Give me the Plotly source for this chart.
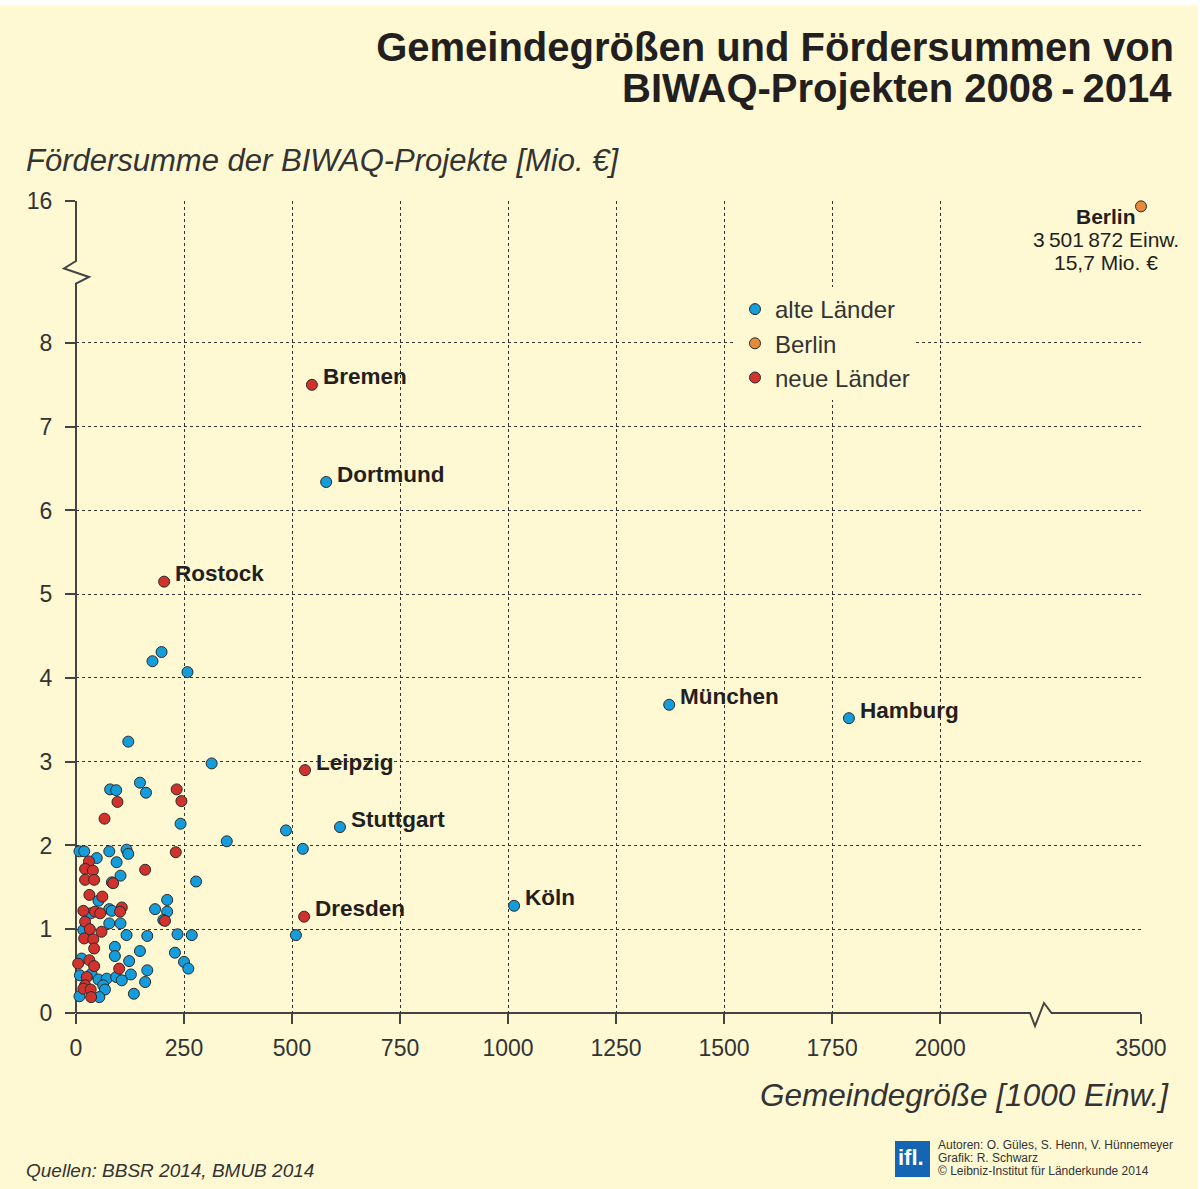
import plotly.graph_objects as go

# ---------------- data ----------------
# alte Länder (unlabelled points): population [1000 Einw.], funding [Mio. €]
alte_x = [121, 314, 148, 79, 93, 162, 242, 349, 8, 19, 48, 77, 117, 121, 94, 103, 83, 278,
          52, 211, 77, 83, 183, 211, 34, 77, 103, 202, 17, 117, 165, 235, 268, 90, 148, 229,
          90, 13, 123, 250, 260, 165, 9, 36, 52, 71, 93, 106, 127, 160, 63, 67, 134, 8, 54,
          198, 177, 258, 486, 525, 509]
alte_y = [3.24, 2.98, 2.75, 2.67, 2.66, 2.63, 2.26, 2.05, 1.93, 1.93, 1.85, 1.93, 1.95, 1.90,
          1.80, 1.64, 1.56, 1.57, 1.34, 1.35, 1.24, 1.22, 1.24, 1.21, 1.19, 1.07, 1.07, 1.11,
          0.99, 0.93, 0.92, 0.94, 0.93, 0.79, 0.74, 0.72, 0.68, 0.65, 0.62, 0.61, 0.53, 0.51,
          0.45, 0.47, 0.40, 0.41, 0.43, 0.39, 0.46, 0.37, 0.33, 0.28, 0.23, 0.20, 0.19,
          4.31, 4.20, 4.07, 2.18, 1.96, 0.93]
# labelled alte Länder
alte_named = ["Dortmund", "München", "Hamburg", "Köln", "Stuttgart"]
alte_named_x = [579, 1373, 1789, 1014, 611]
alte_named_y = [6.34, 3.68, 3.52, 1.28, 2.22]

# neue Länder (red)
neue_x = [233, 244, 96, 66, 231, 30, 21, 39, 160, 21, 42, 86, 31, 61, 17, 44, 56, 106, 102,
          206, 21, 32, 59, 19, 40, 42, 31, 5, 42, 100, 25, 21, 17, 34, 35]
neue_y = [2.67, 2.53, 2.52, 2.32, 1.92, 1.81, 1.72, 1.70, 1.71, 1.59, 1.59, 1.55, 1.41, 1.39,
          1.22, 1.21, 1.19, 1.26, 1.21, 1.10, 1.09, 1.00, 0.97, 0.89, 0.88, 0.77, 0.63, 0.59,
          0.56, 0.53, 0.43, 0.33, 0.29, 0.28, 0.19]
neue_named = ["Bremen", "Rostock", "Leipzig", "Dresden"]
neue_named_x = [546, 204, 530, 528]
neue_named_y = [7.50, 5.15, 2.90, 1.15]

# Berlin
berlin_x = [3501.872]
berlin_y = [15.7]

x_tick_values = [0, 250, 500, 750, 1000, 1250, 1500, 1750, 2000, 3500]
y_tick_values = [0, 1, 2, 3, 4, 5, 6, 7, 8, 16]

# ---------------- broken-axis transforms ----------------
X_TOP_T = 2465.0   # internal position of 3500 (axis end)
Y_TOP_T = 9.695    # internal position of 16 (axis end)


def tx(v):
    # linear up to the break, then compressed segment ending at 3500
    return v if v <= 2300 else X_TOP_T - max(0.0, 3500 - v) * 0.2


def ty(v):
    return v if v <= 8.5 else Y_TOP_T - max(0.0, 16 - v) * 0.212


# ---------------- layout geometry (pixels) ----------------
W, H = 1204, 1189
PX_L, PX_R, PX_T, PX_B = 76, 1141, 201, 1013


def pxx(px):
    return (px - PX_L) / (PX_R - PX_L)


def pxy(py):
    return (PX_B - py) / (PX_B - PX_T)


BG = "#FEF9D2"
BLUE = "#159CDA"
RED = "#D2322E"
ORANGE = "#E58B38"
EDGE = "#2B2B2B"
TXT = "#231F20"
GREY = "#333333"
FONT = "Liberation Sans, Arial, Helvetica, sans-serif"

fig = go.Figure()

mk = dict(size=11, line=dict(color=EDGE, width=1))
fig.add_trace(go.Scatter(
    x=[tx(v) for v in alte_x + alte_named_x], y=[ty(v) for v in alte_y + alte_named_y],
    mode="markers", name="alte Länder", marker=dict(color=BLUE, **mk),
    legendrank=1, cliponaxis=False))
fig.add_trace(go.Scatter(
    x=[tx(v) for v in neue_x + neue_named_x], y=[ty(v) for v in neue_y + neue_named_y],
    mode="markers", name="neue Länder", marker=dict(color=RED, **mk),
    legendrank=3, cliponaxis=False))
fig.add_trace(go.Scatter(
    x=[tx(v) for v in berlin_x], y=[ty(v) for v in berlin_y],
    mode="markers", name="Berlin", marker=dict(color=ORANGE, **mk),
    legendrank=2, cliponaxis=False))

annotations = []
for n, xv, yv in list(zip(alte_named, alte_named_x, alte_named_y)) + list(zip(neue_named, neue_named_x, neue_named_y)):
    annotations.append(dict(x=tx(xv), y=ty(yv), xref="x", yref="y", text=f"<b>{n}</b>",
                            showarrow=False, xanchor="left", yanchor="middle",
                            xshift=9, yshift=8, font=dict(size=22.5, color=TXT, family=FONT)))

# Berlin label block
bx, by = tx(berlin_x[0]), ty(berlin_y[0])
for txt, ys in [("<b>Berlin</b>", -10), ("3\u2009501\u2009872 Einw.", -33), ("15,7 Mio. €", -56)]:
    annotations.append(dict(x=bx, y=by, xref="x", yref="y", text=txt, showarrow=False,
                            xanchor="center", yanchor="middle", xshift=-35, yshift=ys,
                            font=dict(size=21, color=TXT, family=FONT)))

# title line 2
annotations.append(dict(x=pxx(1174), y=pxy(88), xref="paper", yref="paper",
                        text="BIWAQ-Projekten 2008\u2009-\u20092014", showarrow=False,
                        xanchor="right", yanchor="middle",
                        font=dict(size=40, color=TXT, family=FONT, weight="bold")))
# axis titles
annotations.append(dict(x=pxx(24), y=pxy(160), xref="paper", yref="paper",
                        text="<i>Fördersumme der BIWAQ-Projekte [Mio. €]</i>", showarrow=False,
                        xanchor="left", yanchor="middle",
                        font=dict(size=31, color=GREY, family=FONT)))
annotations.append(dict(x=pxx(1171), y=pxy(1095), xref="paper", yref="paper",
                        text="<i>Gemeindegröße [1000 Einw.]</i>", showarrow=False,
                        xanchor="right", yanchor="middle",
                        font=dict(size=31.5, color=GREY, family=FONT)))
# footer
annotations.append(dict(x=pxx(24), y=pxy(1170), xref="paper", yref="paper",
                        text="<i>Quellen: BBSR 2014, BMUB 2014</i>", showarrow=False,
                        xanchor="left", yanchor="middle",
                        font=dict(size=19, color=GREY, family=FONT)))
for txt, py in [("Autoren: O. Güles, S. Henn, V. Hünnemeyer", 1145),
                ("Grafik: R. Schwarz", 1158),
                ("© Leibniz-Institut für Länderkunde 2014", 1171)]:
    annotations.append(dict(x=pxx(936), y=pxy(py), xref="paper", yref="paper",
                            text=txt, showarrow=False, xanchor="left", yanchor="middle",
                            font=dict(size=12, color=GREY, family=FONT)))
annotations.append(dict(x=pxx(911), y=pxy(1157), xref="paper", yref="paper",
                        text="<b>ifl.</b>", showarrow=False, xanchor="center", yanchor="middle",
                        font=dict(size=22, color="white", family=FONT)))

AX = "#444444"


def path(points):
    return "M " + " L ".join(f"{pxx(a):.5f},{pxy(b):.5f}" for a, b in points)


shapes = [
    # white strips at top and right edge
    dict(type="rect", xref="paper", yref="paper", x0=pxx(0), x1=pxx(W), y0=pxy(5.5), y1=pxy(0),
         fillcolor="white", line=dict(width=0), layer="below"),
    dict(type="rect", xref="paper", yref="paper", x0=pxx(1198), x1=pxx(W), y0=pxy(H), y1=pxy(0),
         fillcolor="white", line=dict(width=0), layer="below"),
    # covers for gridlines in the break zones
    dict(type="rect", xref="paper", yref="paper", x0=pxx(70), x1=pxx(83), y0=pxy(286), y1=pxy(258),
         fillcolor=BG, line=dict(width=0), layer="between"),
    dict(type="rect", xref="paper", yref="paper", x0=pxx(1027), x1=pxx(1055), y0=pxy(1017), y1=pxy(1009),
         fillcolor=BG, line=dict(width=0), layer="between"),
    # y axis line with break
    dict(type="path", xref="paper", yref="paper", layer="between",
         path=path([(76, 1013), (76, 283.5), (89, 277), (64, 268.5), (76, 261), (76, 201)]),
         line=dict(color=AX, width=2)),
    # x axis line with break
    dict(type="path", xref="paper", yref="paper", layer="between",
         path=path([(76, 1013), (1030, 1013), (1035, 1026), (1044, 1003), (1051.5, 1013), (1141, 1013)]),
         line=dict(color=AX, width=2)),
    # ifl logo box
    dict(type="rect", xref="paper", yref="paper", x0=pxx(895), x1=pxx(930), y0=pxy(1177), y1=pxy(1141),
         fillcolor="#1466B4", line=dict(width=0)),
]

fig.update_layout(
    width=W, height=H,
    margin=dict(l=PX_L, r=W - PX_R, t=PX_T, b=H - PX_B, pad=0),
    paper_bgcolor=BG, plot_bgcolor=BG,
    font=dict(family=FONT, color=GREY),
    title=dict(text="Gemeindegrößen und Fördersummen von", x=1174 / W, xanchor="right",
               xref="container", yref="container", y=1 - 47 / H, yanchor="middle",
               font=dict(size=40, color=TXT, family=FONT, weight="bold")),
    xaxis=dict(range=[0, X_TOP_T], tickvals=[tx(v) for v in x_tick_values],
               ticktext=[str(v) for v in x_tick_values],
               showgrid=True, griddash="dot", gridcolor=GREY, gridwidth=1,
               zeroline=False, showline=False, ticks="outside", ticklen=10,
               tickcolor=AX, tickwidth=1.5, tickfont=dict(size=23, color=GREY),
               ticklabelstandoff=4, fixedrange=True),
    yaxis=dict(range=[0, Y_TOP_T], tickvals=[ty(v) for v in y_tick_values],
               ticktext=[str(v) for v in y_tick_values],
               showgrid=True, griddash="dot", gridcolor=GREY, gridwidth=1,
               zeroline=False, showline=False, ticks="outside", ticklen=10,
               tickcolor=AX, tickwidth=1.5, tickfont=dict(size=23, color=GREY),
               ticklabelstandoff=8, fixedrange=True),
    legend=dict(x=pxx(735), y=pxy(287), xanchor="left", yanchor="top", bgcolor=BG,
                font=dict(size=24, color=GREY, family=FONT), itemwidth=30,
                tracegroupgap=0),
    showlegend=True,
    annotations=annotations,
    shapes=shapes,
)

fig.write_html("out.html", config={"displayModeBar": False},
               post_script="document.body.style.margin='0';")
